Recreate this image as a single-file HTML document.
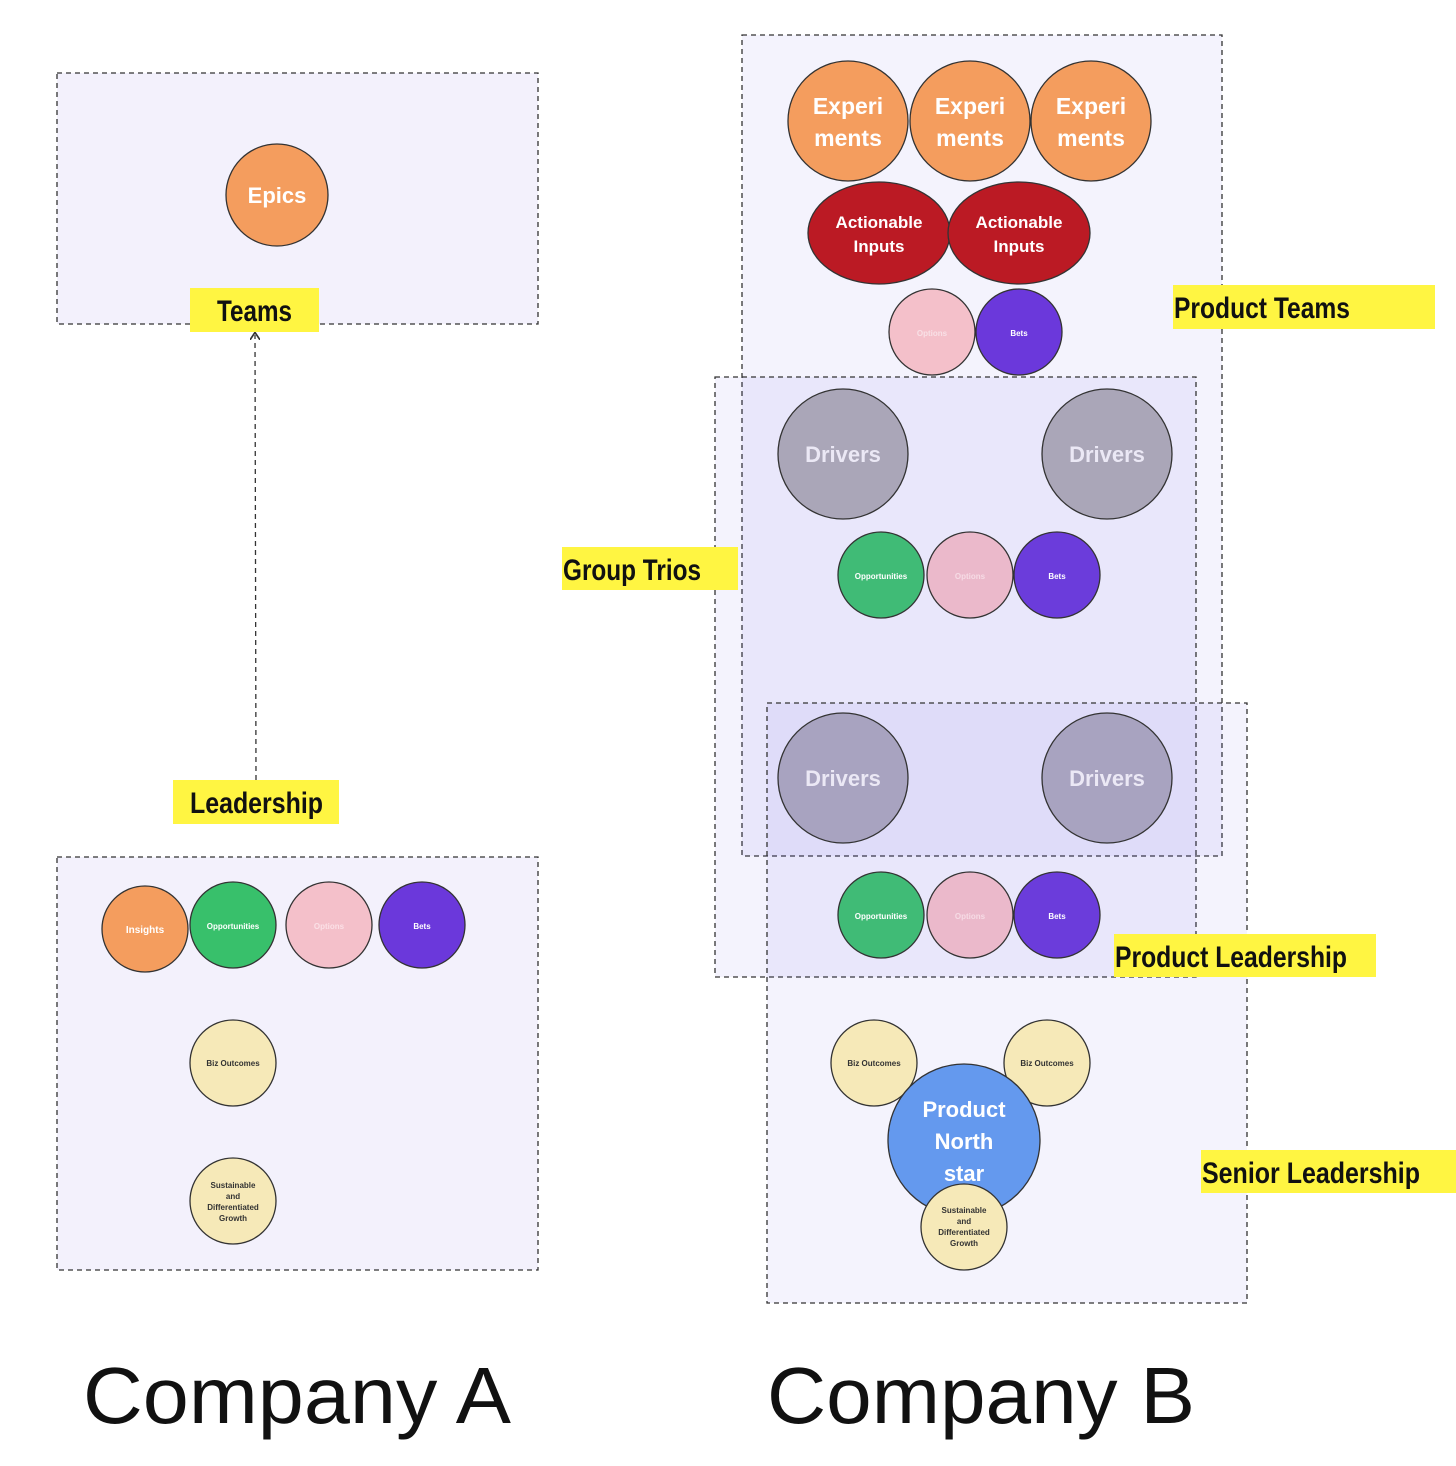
<!DOCTYPE html>
<html><head><meta charset="utf-8"><style>html,body{margin:0;padding:0;background:#fff}</style></head>
<body>
<svg width="1456" height="1461" viewBox="0 0 1456 1461" xmlns="http://www.w3.org/2000/svg" font-family="Liberation Sans, DejaVu Sans, sans-serif">
<defs><marker id="ar" markerWidth="8" markerHeight="8" refX="4" refY="4" orient="auto"><path d="M0,0 L6,4 L0,8" fill="none" stroke="#333" stroke-width="1.3"/></marker></defs>
<rect width="1456" height="1461" fill="#fff"/>
<g stroke="#333" stroke-width="1.3" stroke-dasharray="5,4">
<rect x="57" y="73" width="481" height="251" fill="#f3f1fc"/>
<rect x="57" y="857" width="481" height="413" fill="#f3f1fc"/>
<rect x="742" y="35" width="480" height="821" fill="#6a50e0" fill-opacity="0.07"/>
<rect x="715" y="377" width="481" height="600" fill="#6a50e0" fill-opacity="0.07"/>
<rect x="767" y="703" width="480" height="600" fill="#6a50e0" fill-opacity="0.07"/>
<line x1="256" y1="780" x2="255" y2="335" marker-end="url(#ar)"/>
</g>
<g stroke="#333" stroke-width="1.3">
<circle cx="277" cy="195" r="51" fill="#f49d5e"/>
<circle cx="848" cy="121" r="60" fill="#f49d5e"/>
<circle cx="970" cy="121" r="60" fill="#f49d5e"/>
<circle cx="1091" cy="121" r="60" fill="#f49d5e"/>
<ellipse cx="879" cy="233" rx="71" ry="51" fill="#bb1a24"/>
<ellipse cx="1019" cy="233" rx="71" ry="51" fill="#bb1a24"/>
<circle cx="932" cy="332" r="43" fill="#f4c0ca"/>
<circle cx="1019" cy="332" r="43" fill="#6b38db"/>
<circle cx="843" cy="454" r="65" fill="#aaa6b8"/>
<circle cx="1107" cy="454" r="65" fill="#aaa6b8"/>
<circle cx="881" cy="575" r="43" fill="#40bb76"/>
<circle cx="970" cy="575" r="43" fill="#ebb9cb"/>
<circle cx="1057" cy="575" r="43" fill="#6b3cdb"/>
<circle cx="843" cy="778" r="65" fill="#a8a3c0"/>
<circle cx="1107" cy="778" r="65" fill="#a8a3c0"/>
<circle cx="881" cy="915" r="43" fill="#40bb76"/>
<circle cx="970" cy="915" r="43" fill="#ebb9cb"/>
<circle cx="1057" cy="915" r="43" fill="#6b3cdb"/>
<circle cx="874" cy="1063" r="43" fill="#f6e9b8"/>
<circle cx="1047" cy="1063" r="43" fill="#f6e9b8"/>
<circle cx="964" cy="1140" r="76" fill="#6499ee"/>
<circle cx="964" cy="1227" r="43" fill="#f6e9b8"/>
<circle cx="145" cy="929" r="43" fill="#f49d5e"/>
<circle cx="233" cy="925" r="43" fill="#38c06b"/>
<circle cx="329" cy="925" r="43" fill="#f4c0ca"/>
<circle cx="422" cy="925" r="43" fill="#6b38db"/>
<circle cx="233" cy="1063" r="43" fill="#f6e9b8"/>
<circle cx="233" cy="1201" r="43" fill="#f6e9b8"/>
</g>
<g font-weight="bold" text-anchor="middle" fill="#fff">
<text x="277" y="203" font-size="22">Epics</text>
<text x="848" y="114" font-size="23">Experi</text><text x="848" y="146" font-size="23">ments</text>
<text x="970" y="114" font-size="23">Experi</text><text x="970" y="146" font-size="23">ments</text>
<text x="1091" y="114" font-size="23">Experi</text><text x="1091" y="146" font-size="23">ments</text>
<text x="879" y="228" font-size="17">Actionable</text><text x="879" y="252" font-size="17">Inputs</text>
<text x="1019" y="228" font-size="17">Actionable</text><text x="1019" y="252" font-size="17">Inputs</text>
<text x="932" y="336" font-size="8" fill="#f8e0e6">Options</text>
<text x="1019" y="336" font-size="8">Bets</text>
<g font-size="22" fill="#ebe8f5"><text x="843" y="462">Drivers</text><text x="1107" y="462">Drivers</text><text x="843" y="786">Drivers</text><text x="1107" y="786">Drivers</text></g>
<g font-size="8"><text x="881" y="579">Opportunities</text><text x="970" y="579" fill="#f6dbe5">Options</text><text x="1057" y="579">Bets</text>
<text x="881" y="919">Opportunities</text><text x="970" y="919" fill="#f6dbe5">Options</text><text x="1057" y="919">Bets</text>
<text x="145" y="933" font-size="10">Insights</text><text x="233" y="929">Opportunities</text><text x="329" y="929" fill="#fbe0e6">Options</text><text x="422" y="929">Bets</text></g>
<text x="964" y="1117" font-size="22">Product</text><text x="964" y="1149" font-size="22">North</text><text x="964" y="1181" font-size="22">star</text>
<g font-size="8" fill="#333"><text x="874" y="1066">Biz Outcomes</text><text x="1047" y="1066">Biz Outcomes</text><text x="233" y="1066">Biz Outcomes</text>
<text x="964" y="1213">Sustainable</text><text x="964" y="1224">and</text><text x="964" y="1235">Differentiated</text><text x="964" y="1246">Growth</text>
<text x="233" y="1188">Sustainable</text><text x="233" y="1199">and</text><text x="233" y="1210">Differentiated</text><text x="233" y="1221">Growth</text></g>
</g>
<g fill="#fff542">
<rect x="190" y="288" width="129" height="44"/><rect x="173" y="780" width="166" height="44"/>
<rect x="1173" y="285" width="262" height="44"/><rect x="562" y="547" width="176" height="43"/>
<rect x="1114" y="934" width="262" height="43"/><rect x="1201" y="1150" width="255" height="43"/>
</g>
<g font-weight="bold" font-size="30" fill="#111">
<text x="217" y="321" textLength="75" lengthAdjust="spacingAndGlyphs">Teams</text>
<text x="190" y="813" textLength="133" lengthAdjust="spacingAndGlyphs">Leadership</text>
<text x="1174" y="318" textLength="176" lengthAdjust="spacingAndGlyphs">Product Teams</text>
<text x="563" y="580" textLength="138" lengthAdjust="spacingAndGlyphs">Group Trios</text>
<text x="1115" y="967" textLength="232" lengthAdjust="spacingAndGlyphs">Product Leadership</text>
<text x="1202" y="1183" textLength="218" lengthAdjust="spacingAndGlyphs">Senior Leadership</text>
</g>
<text x="83" y="1423" font-size="80" fill="#111" textLength="428" lengthAdjust="spacingAndGlyphs">Company A</text>
<text x="767" y="1423" font-size="80" fill="#111" textLength="428" lengthAdjust="spacingAndGlyphs">Company B</text>
</svg>
</body></html>
